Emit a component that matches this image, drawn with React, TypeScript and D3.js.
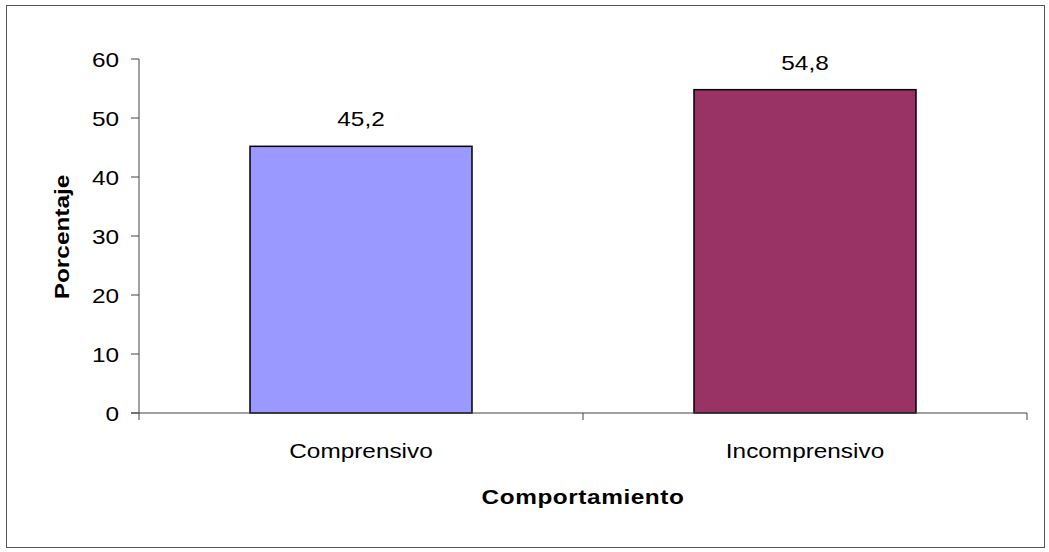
import React from "react";
import * as d3 from "d3";

const categories = ["Comprensivo", "Incomprensivo"];
const values = [45.2, 54.8];
const valueLabels = ["45,2", "54,8"];
const barColors = ["#9999FF", "#993366"];
const yTicks = [0, 10, 20, 30, 40, 50, 60];
const yTitle = "Porcentaje";
const xTitle = "Comportamiento";

const W = 1049;
const H = 552;
const left = 139;
const right = 1027;
const top = 59;
const bottom = 413;
const SX = 1.16;
const FONT = "'Liberation Sans', Arial, sans-serif";

function T({ x, y, children, anchor = "middle", bold = false, rotate = 0, size = 21, ls = 0 }: any) {
  return (
    <g transform={`translate(${x},${y}) rotate(${rotate})`}>
      <text
        transform={`scale(${SX},1)`}
        textAnchor={anchor}
        fontFamily={FONT}
        fontSize={size}
        fontWeight={bold ? "bold" : "normal"}
        letterSpacing={ls}
        fill="#000"
      >
        {children}
      </text>
    </g>
  );
}

export default function App() {
  const y = d3.scaleLinear().domain([0, 60]).range([bottom, top]);
  const x = d3.scaleBand().domain(categories).range([left, right]).paddingInner(0.5).paddingOuter(0.25);
  const step = x.step();
  const boundaries = [left, left + step, right];
  return (
    <svg width={W} height={H} style={{ position: "absolute", left: 0, top: 0, background: "#fff" }}>
      <rect x={6.5} y={5.5} width={1038} height={542} fill="#fff" stroke="#555" strokeWidth={1} />
      {categories.map((c, i) => (
        <rect
          key={c}
          x={x(c)!}
          y={y(values[i])}
          width={x.bandwidth()}
          height={y(0) - y(values[i])}
          fill={barColors[i]}
          stroke="#000"
          strokeWidth={1.5}
        />
      ))}
      {/* y axis */}
      <line x1={left} x2={left} y1={top} y2={bottom} stroke="#444" strokeWidth={1} />
      {yTicks.map((t) => (
        <g key={t}>
          <line x1={left - 8} x2={left} y1={y(t)} y2={y(t)} stroke="#444" strokeWidth={1} />
          <T x={left - 20} y={y(t) + 7.5} anchor="end">{String(t)}</T>
        </g>
      ))}
      {/* x axis */}
      <line x1={left - 8} x2={right} y1={bottom} y2={bottom} stroke="#444" strokeWidth={1} />
      {boundaries.map((b, i) => (
        <line key={i} x1={b} x2={b} y1={bottom} y2={bottom + 7} stroke="#444" strokeWidth={1} />
      ))}
      {categories.map((c, i) => (
        <g key={c}>
          <T x={x(c)! + x.bandwidth() / 2} y={458}>{c}</T>
          <T x={x(c)! + x.bandwidth() / 2} y={y(values[i]) - 20}>{valueLabels[i]}</T>
        </g>
      ))}
      <T x={583} y={504} bold ls={0.5}>{xTitle}</T>
      <T x={69} y={237} bold rotate={-90}>{yTitle}</T>
    </svg>
  );
}
